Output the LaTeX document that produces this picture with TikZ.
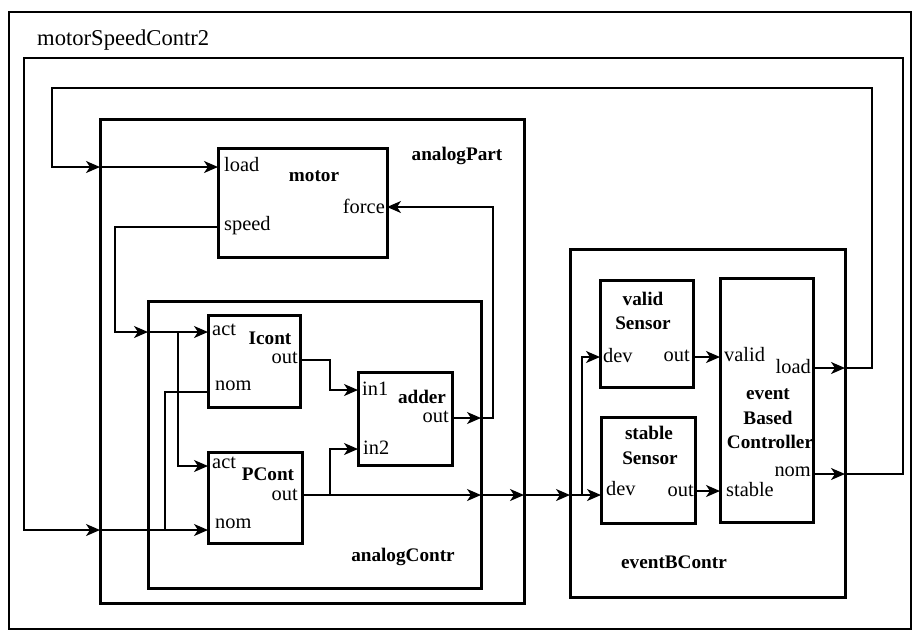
\documentclass[tikz,border=0pt]{standalone}
\usepackage{fontspec}
\setmainfont{Liberation Serif}
\usetikzlibrary{arrows.meta}
\begin{document}
\begin{tikzpicture}[x=1pt,y=-1pt,
  font=\fontsize{20.4}{22}\selectfont,
  blk/.style={draw, line width=3pt, inner sep=0pt, outer sep=0pt, anchor=north west},
  wire/.style={line width=1.7pt},
  arr/.style={wire, -{Stealth[length=14pt,width=12pt,inset=4pt]}},
  pl/.style={inner sep=0pt},
  bl/.style={inner sep=0pt, font=\fontsize{19.2}{21}\selectfont\bfseries}]
\useasboundingbox (0,0) rectangle (915,633);

% boxes
\node[blk, line width=2.8pt, minimum width=902pt, minimum height=617pt] (frame) at (9,12) {};
\node[blk, minimum width=424pt, minimum height=484pt] (analogPart) at (100,119) {};
\node[blk, minimum width=169pt, minimum height=109pt] (motor) at (218,148) {};
\node[blk, minimum width=333pt, minimum height=287pt] (analogContr) at (148,301) {};
\node[blk, minimum width=92pt, minimum height=92pt] (Icont) at (208,315) {};
\node[blk, minimum width=94pt, minimum height=91pt] (PCont) at (208,452) {};
\node[blk, minimum width=94pt, minimum height=93pt] (adder) at (358,372) {};
\node[blk, minimum width=275pt, minimum height=348pt] (eventBContr) at (570,249) {};
\node[blk, minimum width=93pt, minimum height=107pt] (validS) at (600,280) {};
\node[blk, minimum width=94pt, minimum height=106pt] (stableS) at (601,417) {};
\node[blk, minimum width=93pt, minimum height=244pt] (ebc) at (720,278) {};

% labels
\node[pl, anchor=west, font=\fontsize{22.6}{24}\selectfont] (title) at (37,40) {motorSpeedContr2};
\node[bl] (lAP) at (457,156) {analogPart};
\node[bl] (lAC) at (403,557) {analogContr};
\node[bl] (lEB) at (674,562) {eventBContr};

\node[pl, anchor=west] (tmLoad) at (224,165) {load};
\node[bl] (tMotor) at (314,176) {motor};
\node[pl, anchor=east] (tmForce) at (385,206) {force};
\node[pl, anchor=west] (tmSpeed) at (224,226) {speed};

\node[pl, anchor=west] (tiAct) at (212,330) {act};
\node[bl] (tIcont) at (270,338) {Icont};
\node[pl, anchor=east] (tiOut) at (298,358) {out};
\node[pl, anchor=west] (tiNom) at (215,386) {nom};

\node[pl, anchor=west] (tpAct) at (212,463) {act};
\node[bl] (tPCont) at (268,474) {PCont};
\node[pl, anchor=east] (tpOut) at (298,495) {out};
\node[pl, anchor=west] (tpNom) at (215,524) {nom};

\node[pl, anchor=west] (taIn1) at (362,389) {in1};
\node[bl] (tAdder) at (422,397) {adder};
\node[pl, anchor=east] (taOut) at (449,417) {out};
\node[pl, anchor=west] (taIn2) at (363,448) {in2};

\node[bl] (tvValid) at (643,299) {valid};
\node[bl] (tvSensor) at (643,323) {Sensor};
\node[pl, anchor=west] (tvDev) at (603,356) {dev};
\node[pl, anchor=east] (tvOut) at (690,356) {out};

\node[bl] (tsStable) at (649,433) {stable};
\node[bl] (tsSensor) at (650,458) {Sensor};
\node[pl, anchor=west] (tsDev) at (606,489) {dev};
\node[pl, anchor=east] (tsOut) at (694,491) {out};

\node[pl, anchor=west] (teValid) at (724,355) {valid};
\node[pl, anchor=east] (teLoad) at (811,367) {load};
\node[bl] (teEvent) at (768,394) {event};
\node[bl] (teBased) at (768,418) {Based};
\node[bl] (teContr) at (770,442) {Controller};
\node[pl, anchor=east] (teNom) at (811,472) {nom};
\node[pl, anchor=west] (teStable) at (726,490) {stable};

% port coordinates
\coordinate (mLoad) at (218,167);
\coordinate (mForce) at (387,207);
\coordinate (mSpeed) at (218,227);
\coordinate (iAct) at (208,332);
\coordinate (iNom) at (208,392);
\coordinate (iOut) at (300,360);
\coordinate (pAct) at (208,466);
\coordinate (pNom) at (208,530);
\coordinate (pOut) at (302,495);
\coordinate (aIn1) at (358,390);
\coordinate (aIn2) at (358,449);
\coordinate (aOut) at (452,418);
\coordinate (vDev) at (600,357);
\coordinate (vOut) at (693,357);
\coordinate (sDev) at (601,495);
\coordinate (sOut) at (695,491);
\coordinate (eValid) at (720,357);
\coordinate (eStable) at (720,491);
\coordinate (eLoad) at (813,368);
\coordinate (eNom) at (813,474);
% bends
\coordinate (lpR) at (872,88);
\coordinate (lpL) at (52,167);
\coordinate (olR) at (903,58);
\coordinate (olL) at (24,530);
\coordinate (spL) at (115,332);
\coordinate (jA) at (178,332);
\coordinate (jN) at (165,530);
\coordinate (jI) at (330,390);
\coordinate (jP) at (330,495);
\coordinate (jS) at (582,495);
\coordinate (fc) at (493,418);

% load loop
\draw[arr] (eLoad) -- (eventBContr.east |- eLoad);
\draw[arr] (eventBContr.east |- eLoad) -| (lpR) -| (lpL) -- (analogPart.west |- mLoad);
\draw[arr] (analogPart.west |- mLoad) -- (mLoad);
% nom loop
\draw[arr] (eNom) -- (eventBContr.east |- eNom);
\draw[arr] (eventBContr.east |- eNom) -| (olR) -| (olL) -- (analogPart.west |- pNom);
\draw[arr] (analogPart.west |- pNom) -- (pNom);
\draw[wire] (jN) |- (iNom);
% speed
\draw[arr] (mSpeed) -| (spL) -- (analogContr.west |- iAct);
\draw[arr] (analogContr.west |- iAct) -- (iAct);
\draw[arr] (jA) |- (pAct);
% Icont out
\draw[arr] (iOut) -| (jI) -- (aIn1);
% PCont out
\draw[arr] (pOut) -- (analogContr.east |- pOut);
\draw[arr] (jP) |- (aIn2);
\draw[arr] (analogContr.east |- pOut) -- (analogPart.east |- pOut);
\draw[arr] (analogPart.east |- pOut) -- (eventBContr.west |- pOut);
\draw[arr] (eventBContr.west |- pOut) -- (sDev);
\draw[arr] (jS) |- (vDev);
% sensors
\draw[arr] (vOut) -- (eValid);
\draw[arr] (sOut) -- (eStable);
% adder out to force
\draw[arr] (aOut) -- (analogContr.east |- aOut);
\draw[arr] (analogContr.east |- aOut) -- (fc) |- (mForce);
\end{tikzpicture}
\end{document}
